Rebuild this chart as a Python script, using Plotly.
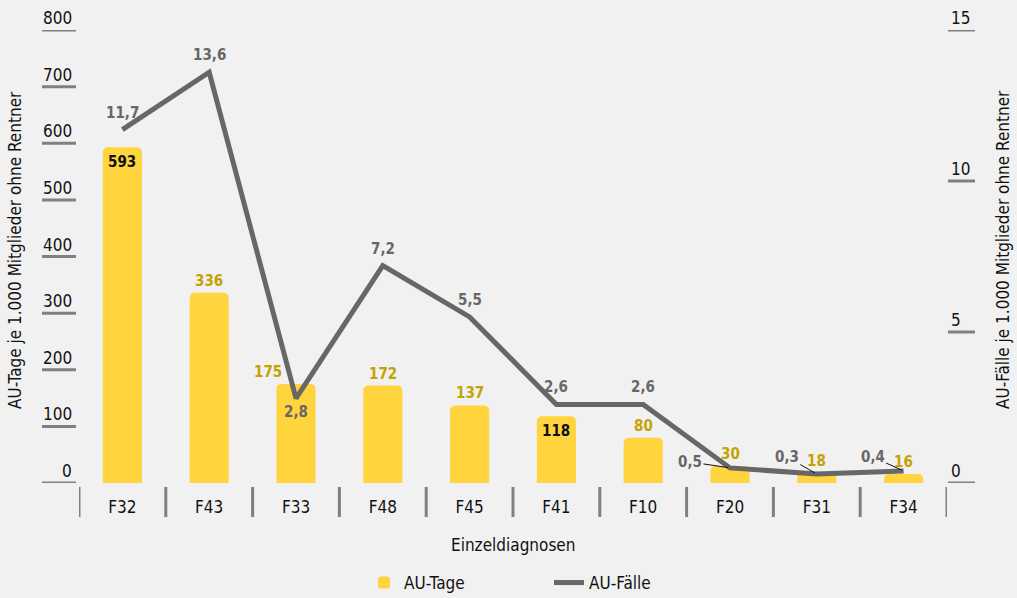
import plotly.graph_objects as go

# Data
categories = ["F32", "F43", "F33", "F48", "F45", "F41", "F10", "F20", "F31", "F34"]
au_tage = [593, 336, 175, 172, 137, 118, 80, 30, 18, 16]
au_faelle = [11.7, 13.6, 2.8, 7.2, 5.5, 2.6, 2.6, 0.5, 0.3, 0.4]
left_ticks = [0, 100, 200, 300, 400, 500, 600, 700, 800]
right_ticks = [0, 5, 10, 15]

FONT = "DejaVu Sans Condensed, Liberation Sans Narrow, Arial Narrow, sans-serif"
BAR_COLOR = "#FFD43C"
BAR_LABEL = "#C4A300"
LINE_COLOR = "#676767"
TICK_COLOR = "#808080"
TEXT = "#111111"
BG = "#F1F1F1"

# Plot-area geometry (pixels) used to place decorations in paper units
W, H = 1017, 598
L, R, T, B = 79, 70, 30, 115
PW, PH = W - L - R, H - T - B


def px_x(px):
    return (px - L) / PW


def px_y(py):
    return (H - B - py) / PH


fig = go.Figure()

fig.add_trace(go.Bar(
    x=categories, y=au_tage, name="AU-Tage",
    marker=dict(color=BAR_COLOR, cornerradius=5, line=dict(width=0)),
    width=0.45, yaxis="y", hoverinfo="x+y",
))

fig.add_trace(go.Scatter(
    x=categories, y=au_faelle, name="AU-Fälle", mode="lines",
    line=dict(color=LINE_COLOR, width=5), yaxis="y2",
))

annotations = []
shapes = []

# Bar value labels: most sit above the bar, some inside the bar top
inside_labels = {"F32", "F41"}
label_xshift = {"F33": -28}
for cat, v in zip(categories, au_tage):
    inside = cat in inside_labels
    annotations.append(dict(
        x=cat, y=v, xref="x", yref="y", text=f"<b>{v}</b>", showarrow=False,
        yanchor="top" if inside else "bottom",
        yshift=-4 if inside else 1,
        xshift=label_xshift.get(cat, 0),
        font=dict(family=FONT, size=15, color=TEXT if inside else BAR_LABEL),
    ))

# Line value labels: above, below or offset with a leader line
below_labels = {"F33"}
leader_offsets = {"F20": (-40, -6), "F31": (-30, -17), "F34": (-31, -14)}
for cat, v in zip(categories, au_faelle):
    txt = f"<b>{v:.1f}</b>".replace(".", ",")
    font = dict(family=FONT, size=15, color=LINE_COLOR)
    if cat in leader_offsets:
        ax, ay = leader_offsets[cat]
        annotations.append(dict(
            x=cat, y=v, xref="x", yref="y2", text=txt, showarrow=True,
            arrowhead=0, arrowwidth=1, arrowcolor=TEXT,
            ax=ax, ay=ay, axref="pixel", ayref="pixel", standoff=2, font=font,
        ))
    elif cat in below_labels:
        annotations.append(dict(
            x=cat, y=v, xref="x", yref="y2", text=txt, showarrow=False,
            yanchor="top", yshift=-3, font=font,
        ))
    else:
        annotations.append(dict(
            x=cat, y=v, xref="x", yref="y2", text=txt, showarrow=False,
            yanchor="bottom", yshift=6, font=font,
        ))

# Left axis: labels sitting on short tick bars
for t in left_ticks:
    shapes.append(dict(type="line", xref="paper", yref="y",
                       x0=px_x(42), x1=px_x(76), y0=t, y1=t,
                       line=dict(color=TICK_COLOR, width=3)))
    annotations.append(dict(x=px_x(74), y=t, xref="paper", yref="y", text=str(t),
                            showarrow=False, xanchor="right", yanchor="bottom", yshift=0,
                            font=dict(family=FONT, size=17, color=TEXT)))

# Right axis
for t in right_ticks:
    shapes.append(dict(type="line", xref="paper", yref="y2",
                       x0=px_x(948), x1=px_x(975), y0=t, y1=t,
                       line=dict(color=TICK_COLOR, width=3)))
    annotations.append(dict(x=px_x(949), y=t, xref="paper", yref="y2", text=str(t),
                            showarrow=False, xanchor="left", yanchor="bottom", yshift=0,
                            font=dict(family=FONT, size=17, color=TEXT)))

# Category separators below the baseline
for i in range(len(categories) + 1):
    shapes.append(dict(type="line", xref="x", yref="paper",
                       x0=i - 0.5, x1=i - 0.5, y0=px_y(487), y1=px_y(517),
                       line=dict(color=TICK_COLOR, width=3)))

# Axis titles
annotations.append(dict(x=0.5, y=px_y(545), xref="paper", yref="paper",
                        xanchor="center", yanchor="middle",
                        text="Einzeldiagnosen", showarrow=False,
                        font=dict(family=FONT, size=17, color=TEXT)))
annotations.append(dict(x=px_x(15), y=px_y(250), xref="paper", yref="paper",
                        xanchor="center", yanchor="middle",
                        text="AU-Tage je 1.000 Mitglieder ohne Rentner", textangle=-90,
                        showarrow=False, font=dict(family=FONT, size=17, color=TEXT)))
annotations.append(dict(x=px_x(1003), y=px_y(250), xref="paper", yref="paper",
                        xanchor="center", yanchor="middle",
                        text="AU-Fälle je 1.000 Mitglieder ohne Rentner", textangle=-90,
                        showarrow=False, font=dict(family=FONT, size=17, color=TEXT)))

fig.update_layout(
    width=W, height=H, autosize=False,
    margin=dict(l=L, r=R, t=T, b=B, autoexpand=False),
    paper_bgcolor=BG, plot_bgcolor=BG,
    font=dict(family=FONT, size=17, color=TEXT),
    showlegend=True,
    legend=dict(orientation="h", x=px_x(364), xanchor="left", y=px_y(583), yanchor="middle",
                font=dict(family=FONT, size=17, color=TEXT),
                entrywidth=140, bgcolor="rgba(0,0,0,0)"),
    xaxis=dict(type="category", range=[-0.5, len(categories) - 0.5],
               showgrid=False, zeroline=False, showline=False, ticks="",
               tickfont=dict(family=FONT, size=17, color=TEXT),
               ticklabelstandoff=12),
    yaxis=dict(range=[0, 800], showgrid=False, zeroline=False, showline=False,
               showticklabels=False, ticks=""),
    yaxis2=dict(range=[0, 15], overlaying="y", side="right", showgrid=False,
                zeroline=False, showline=False, showticklabels=False, ticks=""),
    annotations=annotations,
    shapes=shapes,
    bargap=0.55,
)

fig.write_html("out.html")
